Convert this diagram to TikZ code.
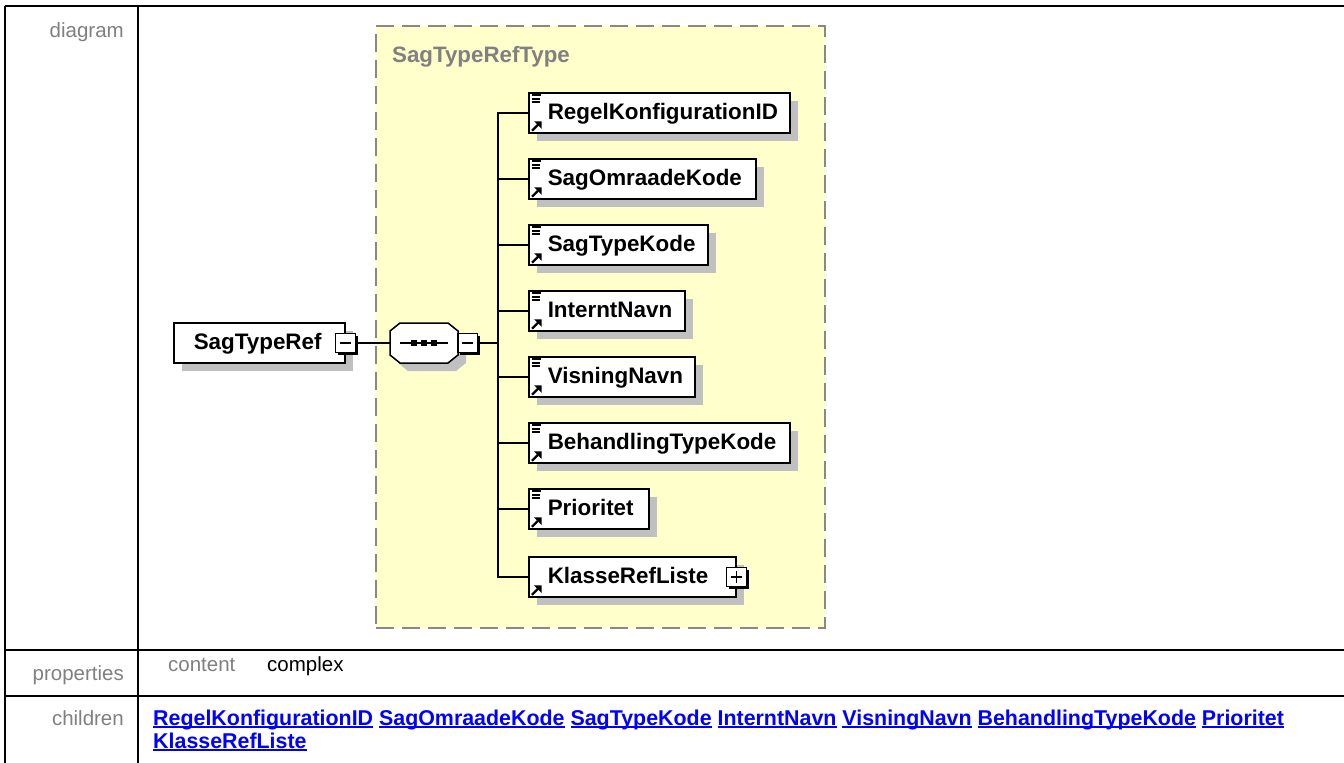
\documentclass[tikz,border=0pt]{standalone}
\usepackage{fontspec}
\setmainfont{Liberation Sans}
\usetikzlibrary{shadows,calc}
\definecolor{shadowgray}{RGB}{192,192,192}
\definecolor{lblgray}{RGB}{128,128,128}
\definecolor{ctyellow}{RGB}{255,255,204}
\definecolor{ctborder}{RGB}{136,136,136}
\definecolor{lnkblue}{RGB}{0,0,255}
\newcommand\lnk[1]{\sbox0{#1}\rlap{\rule[-3.2pt]{\wd0}{1.8pt}}\usebox0}
\newcommand\elicons[1]{%
  \draw[line width=1.6pt] ($(#1.north west)+(4,3)$) -- +(9,0);
  \draw[line width=1.6pt] ($(#1.north west)+(4,6.5)$) -- +(8,0);
  \draw[line width=1.6pt] ($(#1.north west)+(4,10)$) -- +(8,0);
}
\newcommand\elarrow[1]{%
  \draw[line width=2.2pt] ($(#1.south west)+(4,-3)$) -- +(6,-6);
  \fill ($(#1.south west)+(13.5,-12.5)$) -- +(-7.5,0) -- +(0,7.5) -- cycle;
}
\begin{document}
\begin{tikzpicture}[x=1pt,y=-1pt,
  tblline/.style={line width=2.2pt},
  rowlbl/.style={text=lblgray, font=\fontsize{20.5}{24}\selectfont, anchor=base east, inner sep=0pt},
  proptxt/.style={font=\fontsize{20.5}{24}\selectfont, anchor=base west, inner sep=0pt},
  lnktxt/.style={text=lnkblue, font=\fontsize{21.4}{25}\selectfont\bfseries, anchor=base west, inner sep=0pt},
  elem/.style={draw, line width=1.5pt, fill=white, anchor=west, minimum height=40pt,
    inner xsep=0pt, inner ysep=0pt, align=left, text height=15pt, text depth=2pt,
    font=\fontsize{22.4}{26}\selectfont\bfseries,
    drop shadow={shadow xshift=8pt, shadow yshift=-8pt, fill=shadowgray, opacity=1}},
  pm/.style={draw, line width=1.4pt, fill=white, minimum size=19.5pt, inner sep=0pt,
    drop shadow={shadow xshift=2.5pt, shadow yshift=-2.5pt, fill=black, opacity=1}},
  minusbox/.style={pm, path picture={\draw[line width=1.3pt]
    ($(path picture bounding box.west)+(4,0)$) -- ($(path picture bounding box.east)+(-4,0)$);}},
  plusbox/.style={pm, path picture={\draw[line width=1.3pt]
    ($(path picture bounding box.west)+(4,0)$) -- ($(path picture bounding box.east)+(-4,0)$)
    ($(path picture bounding box.north)+(0,4)$) -- ($(path picture bounding box.south)+(0,-4)$);}},
  conn/.style={line width=1.5pt},
  ctbox/.style={fill=ctyellow, draw=ctborder, line width=2pt, dash pattern=on 18pt off 8pt,
    inner sep=0pt},
  cttitle/.style={text=lblgray, font=\fontsize{22.3}{26}\selectfont\bfseries, anchor=base west, inner sep=0pt},
  compbox/.style={minimum width=68pt, minimum height=40pt, inner sep=0pt}
]
\useasboundingbox (0,0) rectangle (1344,763);
\fill[white] (0,0) rectangle (1344,763);

% table
\draw[tblline] (5,6) -- (1344,6);
\draw[tblline] (5,6) -- (5,763);
\draw[tblline] (138,6) -- (138,763);
\draw[tblline] (5,650) -- (1344,650);
\draw[tblline] (5,696) -- (1344,696);

\node[rowlbl] (lbldiag) at (124,37) {diagram};
\node[rowlbl] (lblprop) at (124,680) {properties};
\node[rowlbl] (lblchild) at (124,725) {children};
\node[proptxt, text=lblgray] (pcontent) at (168,671) {content};
\node[proptxt] (pcomplex) at (267,671) {complex};
\node[lnktxt] (links1) at (153,725) {\lnk{RegelKonfigurationID} \lnk{SagOmraadeKode} \lnk{SagTypeKode} \lnk{InterntNavn} \lnk{VisningNavn} \lnk{BehandlingTypeKode} \lnk{Prioritet}};
\node[lnktxt] (links2) at (153,748) {\lnk{KlasseRefListe}};

% complex type box
\node[ctbox, minimum width=449pt, minimum height=602pt] (ct) at (600.5,327) {};
\node[cttitle] (cttxt) at (392,62) {SagTypeRefType};

% root element
\node[elem, text width=171pt] (root) at (173,343) {\hspace*{20pt}SagTypeRef};
\node[minusbox] (rootmin) at (root.east) {};

% sequence compositor
\node[compbox] (comp) at (424,343) {};
\fill[shadowgray] (408,331) -- (456,331) -- (466,339) -- (466,363) -- (456,371) -- (408,371) -- (398,363) -- (398,339) -- cycle;
\filldraw[fill=white, line width=1.5pt] (400,323) -- (448,323) -- (458,331) -- (458,355) -- (448,363) -- (400,363) -- (390,355) -- (390,331) -- cycle;
\draw[line width=1.5pt] (400,343) -- (448,343);
\fill (411,340) rectangle (417,346);
\fill (421,340) rectangle (427,346);
\fill (431,340) rectangle (437,346);
\node[minusbox] (compmin) at ($(comp.east)+(9.5,0)$) {};

\draw[conn] (rootmin.east) -- (comp.west);
\coordinate (spine) at (498,343);
\draw[conn] (compmin.east) -- (spine);

% children
\node[elem, text width=261pt] (c1) at (528,113) {\hspace*{19pt}RegelKonfigurationID};
\node[elem, text width=227pt] (c2) at (528,179) {\hspace*{19pt}SagOmraadeKode};
\node[elem, text width=179pt] (c3) at (528,245) {\hspace*{19pt}SagTypeKode};
\node[elem, text width=156pt] (c4) at (528,311) {\hspace*{19pt}InterntNavn};
\node[elem, text width=166pt] (c5) at (528,377) {\hspace*{19pt}VisningNavn};
\node[elem, text width=261pt] (c6) at (528,443) {\hspace*{19pt}BehandlingTypeKode};
\node[elem, text width=120pt] (c7) at (528,509) {\hspace*{19pt}Prioritet};
\node[elem, text width=207pt] (c8) at (528,577) {\hspace*{19pt}KlasseRefListe};
\node[plusbox] (c8plus) at (c8.east) {};

\foreach \c in {c1,c2,c3,c4,c5,c6,c7}{\elicons{\c}}
\foreach \c in {c1,c2,c3,c4,c5,c6,c7,c8}{\elarrow{\c}}

\foreach \c in {c1,c2,c3,c4,c5,c6,c7,c8}{\draw[conn] (spine) |- (\c.west);}
\end{tikzpicture}
\end{document}
